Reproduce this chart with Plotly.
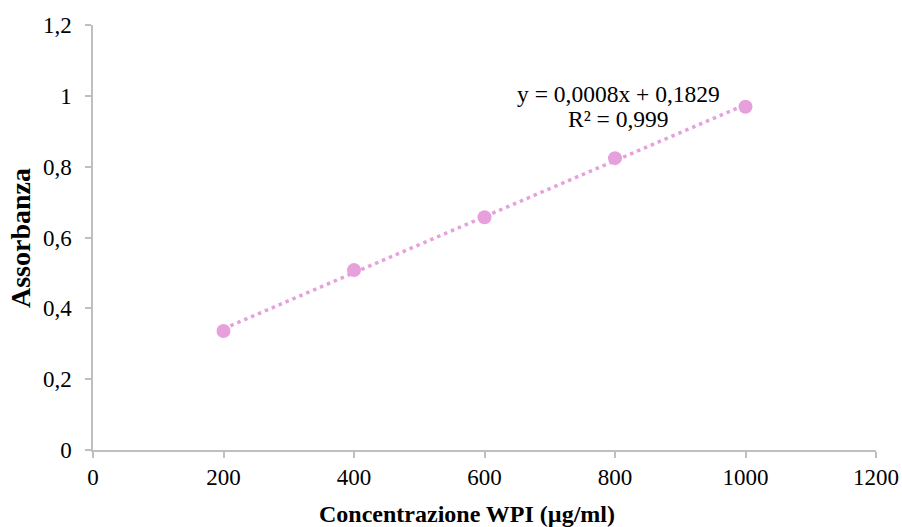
import numpy as np
import plotly.graph_objects as go

# Data
concentrazione = [200, 400, 600, 800, 1000]
assorbanza = [0.336, 0.508, 0.657, 0.824, 0.969]
x_ticks = [0, 200, 400, 600, 800, 1000, 1200]
y_ticks = [0, 0.2, 0.4, 0.6, 0.8, 1.0, 1.2]
eq_line1 = "y = 0,0008x + 0,1829"
eq_line2 = "R² = 0,999"
x_title = "Concentrazione WPI (µg/ml)"
y_title = "Assorbanza"

color = "#E6A0DC"
font_family = "Liberation Serif, Times New Roman, serif"

slope, intercept = np.polyfit(concentrazione, assorbanza, 1)
trend_x = [min(concentrazione), max(concentrazione)]
trend_y = [slope * v + intercept for v in trend_x]

fig = go.Figure()
fig.add_trace(go.Scatter(
    x=trend_x, y=trend_y, mode="lines",
    line=dict(color=color, width=3.5, dash="3.5px,4px"),
    hoverinfo="skip", showlegend=False,
))
fig.add_trace(go.Scatter(
    x=concentrazione, y=assorbanza, mode="markers",
    marker=dict(color=color, size=14),
    showlegend=False,
))

fig.add_annotation(
    x=805, y=1.005, xref="x", yref="y",
    text=eq_line1, showarrow=False, align="center",
    font=dict(family=font_family, size=23.5, color="black"),
)
fig.add_annotation(
    x=805, y=0.935, xref="x", yref="y",
    text=eq_line2, showarrow=False, align="center",
    font=dict(family=font_family, size=23.5, color="black"),
)
# Axis titles
fig.add_annotation(
    x=0.4777, y=-0.1506, xref="paper", yref="paper",
    xanchor="center", yanchor="middle",
    text="<b>" + x_title + "</b>", showarrow=False,
    font=dict(family=font_family, size=24, color="black"),
)
fig.add_annotation(
    x=-0.0932, y=0.4988, xref="paper", yref="paper",
    xanchor="center", yanchor="middle", textangle=-90,
    text="<b>" + y_title + "</b>", showarrow=False,
    font=dict(family=font_family, size=28, color="black"),
)

axis_common = dict(
    showgrid=False, zeroline=False, showline=True,
    linecolor="#BFBFBF", linewidth=1.5,
    ticks="outside", tickcolor="#BFBFBF", ticklen=6, tickwidth=1.5,
    tickfont=dict(family=font_family, size=23, color="black"),
    automargin=False, ticklabeloverflow="allow",
)

fig.update_layout(
    width=902, height=527,
    margin=dict(l=93, r=26, t=25, b=77),
    plot_bgcolor="white", paper_bgcolor="white",
    separators=",.",
    xaxis=dict(range=[0, 1200], tickvals=x_ticks, **axis_common),
    yaxis=dict(range=[0, 1.2], tickvals=y_ticks, ticklabelstandoff=9, **axis_common),
)

fig.write_html("out.html", config={"displayModeBar": False},
               post_script="document.body.style.margin='0';")
